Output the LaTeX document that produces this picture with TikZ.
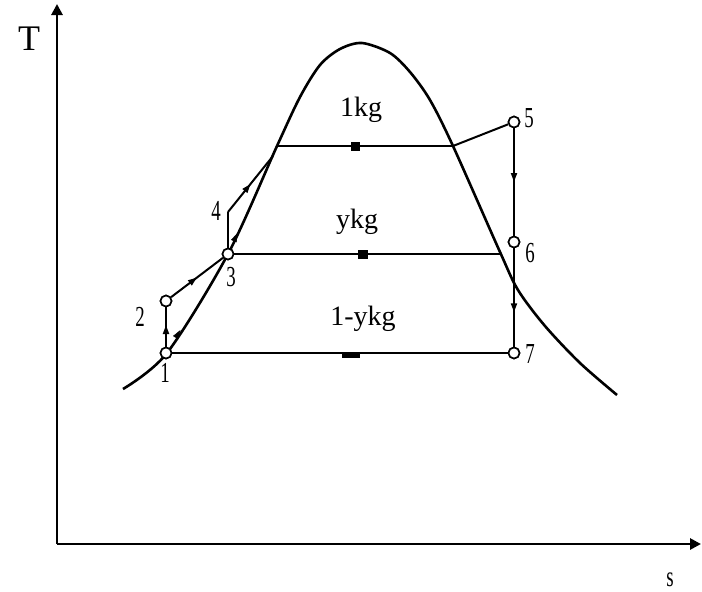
\documentclass[tikz,border=0pt]{standalone}
\usepackage{fontspec}
\setmainfont{Liberation Serif}
\newfontfamily\narrowserif[FakeStretch=0.65]{Liberation Serif}
\usetikzlibrary{arrows.meta,decorations.markings}
\begin{document}
\begin{tikzpicture}[x=1pt,y=-1pt,
  curve/.style={line width=2.6pt,line join=round},
  ln/.style={line width=2pt},
  axis/.style={line width=2.8pt,-{Triangle[length=11pt,width=11pt]}},
  pt/.style={circle,draw,line width=1.6pt,fill=white,inner sep=0pt,minimum size=11pt},
  lbl/.style={font=\narrowserif\fontsize{29}{29}\selectfont,inner sep=0pt},
  kg/.style={font=\fontsize{28}{28}\selectfont,inner sep=0pt},
  mid/.style={postaction={decorate,decoration={markings,mark=at position #1 with {\arrow{Triangle[length=9pt,width=6pt]}}}}},
  blk/.style={fill=black}
]
\useasboundingbox (0,0) rectangle (702,592);
% axes
\coordinate (O) at (57,544);
\coordinate (Ty) at (57,4);
\coordinate (Sx) at (701,544);
\draw[axis] (O) -- (Ty);
\draw[axis] (O) -- (Sx);
\node[font=\fontsize{36}{36}\selectfont,inner sep=0pt] (T) at (29,39) {T};
\node[lbl] (s) at (670,580) {s};
% saturation dome
\draw[curve] plot[smooth,tension=0.5] coordinates {(123,389) (167,353) (228,254) (277,146) (300,97) (320,65) (340,49) (362,43) (390,53) (410,72) (430,100) (453,146) (500,252) (518,290) (545,326) (580,363) (617,395)};
% coordinates
\coordinate (a) at (277,146);
\coordinate (b) at (453,146);
\coordinate (c) at (501,254);
\coordinate (q4) at (228,212);
\coordinate (q4b) at (273,156);
% state points
\node[pt] (p1) at (166,353) {};
\node[pt] (p2) at (166,301) {};
\node[pt] (p3) at (228,254) {};
\node[pt] (p5) at (514,122) {};
\node[pt] (p6) at (514,242) {};
\node[pt] (p7) at (514,353) {};
% horizontal lines
\draw[ln] (a) -- (b);
\draw[ln] (p3) -- (c);
\draw[ln] (p1) -- (p7);
\fill[blk] (351,142) rectangle (360,151);
\fill[blk] (358,250) rectangle (368,259);
\fill[blk] (342,353) rectangle (360,358);
% process lines
\draw[ln,mid=0.55] (p1) -- (p2);
\draw[ln,mid=0.5] (p2) -- (p3);
\draw[ln] (p3) -- (q4);
\draw[ln,mid=0.5] (q4) -- (q4b);
\path[mid=0.2] (p1) -- (p3);
\path[mid=0.15] (p3) -- (a);
\draw[ln] (b) -- (p5);
\draw[ln,mid=0.5] (p5) -- (p6);
\draw[ln,mid=0.65] (p6) -- (p7);
% redraw points on top
\node[pt] at (p1) {};
\node[pt] at (p2) {};
\node[pt] at (p3) {};
\node[pt] at (p5) {};
\node[pt] at (p6) {};
\node[pt] at (p7) {};
% labels
\node[lbl] (l1) at (165,373) {1};
\node[lbl] (l2) at (140,317) {2};
\node[lbl] (l3) at (231,277) {3};
\node[lbl] (l4) at (216,211) {4};
\node[lbl] (l5) at (529,118) {5};
\node[lbl] (l6) at (530,253) {6};
\node[lbl] (l7) at (530,354) {7};
\node[kg] (k1) at (361,110) {1kg};
\node[kg] (k2) at (357,222) {ykg};
\node[kg] (k3) at (363,319) {1-ykg};
\end{tikzpicture}
\end{document}
